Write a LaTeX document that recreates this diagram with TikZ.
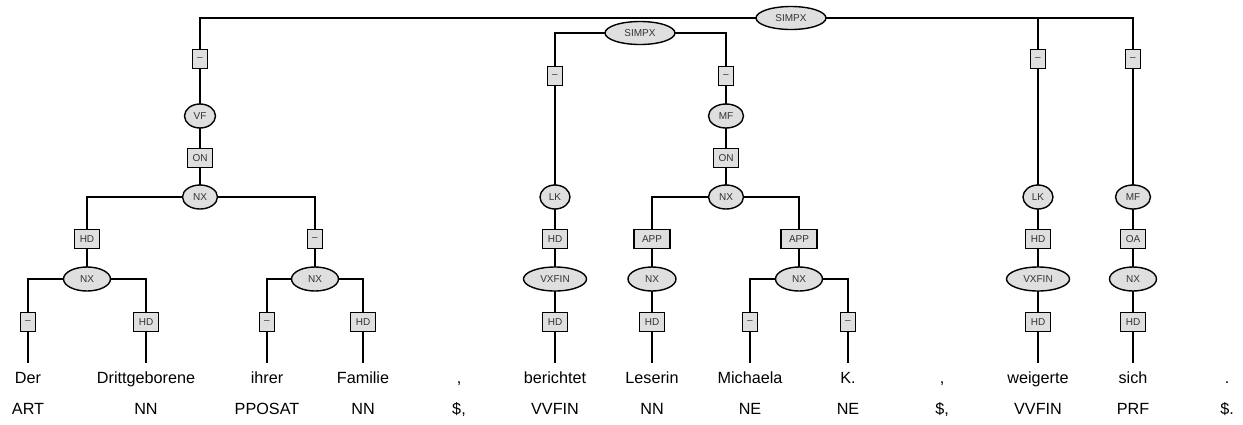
\documentclass[tikz,border=0pt]{standalone}
\usepackage{fontspec}
\setmainfont{Liberation Sans}
\usetikzlibrary{shapes.geometric,backgrounds}
\begin{document}
\begin{tikzpicture}[x=1pt,y=-1pt,
  cat/.style={ellipse,draw=black,line width=1.4pt,fill=gray!25,inner sep=0pt,minimum height=24pt,font=\fontsize{10}{12}\selectfont,text=black!80},
  lab/.style={rectangle,draw=black,line width=1.4pt,fill=gray!25,inner xsep=5pt,inner ysep=0pt,minimum height=19pt,minimum width=15pt,font=\fontsize{10}{12}\selectfont,text=black!80},
  word/.style={anchor=base,inner xsep=0pt,inner ysep=8pt,text height=12pt,text depth=3pt,font=\fontsize{16.2}{18}\selectfont},
  tagtext/.style={anchor=base,inner sep=0pt,font=\fontsize{16.2}{18}\selectfont},
  link/.style={line width=1.3pt,black}]
\useasboundingbox (0,0) rectangle (1243,424);

% ---- words ----
\node[word] (w1) at (28,383) {Der};
\node[word] (w2) at (146,383) {Drittgeborene};
\node[word] (w3) at (267,383) {ihrer};
\node[word] (w4) at (363,383) {Familie};
\node[word] (w5) at (459,383) {,};
\node[word] (w6) at (555,383) {berichtet};
\node[word] (w7) at (652,383) {Leserin};
\node[word] (w8) at (750,383) {Michaela};
\node[word] (w9) at (848,383) {K.};
\node[word] (w10) at (942,383) {,};
\node[word] (w11) at (1038,383) {weigerte};
\node[word] (w12) at (1133,383) {sich};
\node[word] (w13) at (1227,383) {.};
% ---- POS ----
\node[tagtext] (p1) at (28,414) {ART};
\node[tagtext] (p2) at (146,414) {NN};
\node[tagtext] (p3) at (267,414) {PPOSAT};
\node[tagtext] (p4) at (363,414) {NN};
\node[tagtext] (p5) at (459,414) {\$,};
\node[tagtext] (p6) at (555,414) {VVFIN};
\node[tagtext] (p7) at (652,414) {NN};
\node[tagtext] (p8) at (750,414) {NE};
\node[tagtext] (p9) at (848,414) {NE};
\node[tagtext] (p10) at (942,414) {\$,};
\node[tagtext] (p11) at (1038,414) {VVFIN};
\node[tagtext] (p12) at (1133,414) {PRF};
\node[tagtext] (p13) at (1227,414) {\$.};

% ---- top SIMPX ----
\node[cat,minimum width=70pt,minimum height=23pt] (s1) at (791,18) {SIMPX};
% left branch: VF
\node[lab] (e1) at (200,59) {–};
\node[cat,minimum width=31pt] (vf) at (200,116) {VF};
\node[lab] (on1) at (200,158) {ON};
\node[cat,minimum width=35pt] (nx1) at (200,197) {NX};
\node[lab] (hd1) at (87,239) {HD};
\node[cat,minimum width=47pt] (nx2) at (87,279) {NX};
\node[lab] (d1) at (28,322) {–};
\node[lab] (hd2) at (146,322) {HD};
\node[lab] (d2) at (315,239) {–};
\node[cat,minimum width=47pt] (nx3) at (315,279) {NX};
\node[lab] (d3) at (267,322) {–};
\node[lab] (hd3) at (363,322) {HD};
% right branches
\node[lab] (e2) at (1038,59) {–};
\node[cat,minimum width=30pt] (lk2) at (1038,197) {LK};
\node[lab] (hd4) at (1038,239) {HD};
\node[cat,minimum width=63pt] (vx2) at (1038,279) {VXFIN};
\node[lab] (hd5) at (1038,322) {HD};
\node[lab] (e3) at (1133,59) {–};
\node[cat,minimum width=35pt] (mf2) at (1133,197) {MF};
\node[lab] (oa) at (1133,239) {OA};
\node[cat,minimum width=47pt] (nx4) at (1133,279) {NX};
\node[lab] (hd6) at (1133,322) {HD};

% ---- second SIMPX ----
\node[cat,minimum width=70pt,minimum height=23pt] (s2) at (640,33) {SIMPX};
\node[lab] (e4) at (555,76) {–};
\node[cat,minimum width=30pt] (lk1) at (555,197) {LK};
\node[lab] (hd7) at (555,239) {HD};
\node[cat,minimum width=63pt] (vx1) at (555,279) {VXFIN};
\node[lab] (hd8) at (555,322) {HD};
\node[lab] (e5) at (726,76) {–};
\node[cat,minimum width=35pt] (mf1) at (726,116) {MF};
\node[lab] (on2) at (726,158) {ON};
\node[cat,minimum width=35pt] (nx5) at (726,197) {NX};
\node[lab,minimum width=36pt] (app1) at (652,239) {APP};
\node[cat,minimum width=48pt] (nx6) at (652,279) {NX};
\node[lab] (hd9) at (652,322) {HD};
\node[lab,minimum width=36pt] (app2) at (799,239) {APP};
\node[cat,minimum width=47pt] (nx7) at (799,279) {NX};
\node[lab] (d4) at (750,322) {–};
\node[lab] (d5) at (848,322) {–};

\begin{scope}[on background layer]
  % top SIMPX
  \draw[link] (s1.center) -| (e1.center) -- (vf.center);
  \draw[link] (s1.center) -| (e2.center) -- (lk2.center);
  \draw[link] (s1.center) -| (e3.center) -- (mf2.center);
  % VF subtree
  \draw[link] (vf.center) -- (on1.center) -- (nx1.center);
  \draw[link] (nx1.center) -| (hd1.center) -- (nx2.center);
  \draw[link] (nx1.center) -| (d2.center) -- (nx3.center);
  \draw[link] (nx2.center) -| (d1.center) -- (d1.center |- w1.north);
  \draw[link] (nx2.center) -| (hd2.center) -- (hd2.center |- w2.north);
  \draw[link] (nx3.center) -| (d3.center) -- (d3.center |- w3.north);
  \draw[link] (nx3.center) -| (hd3.center) -- (hd3.center |- w4.north);
  % LK / MF right
  \draw[link] (lk2.center) -- (hd4.center) -- (vx2.center) -- (hd5.center) -- (hd5.center |- w11.north);
  \draw[link] (mf2.center) -- (oa.center) -- (nx4.center) -- (hd6.center) -- (hd6.center |- w12.north);
  % second SIMPX
  \draw[link] (s2.center) -| (e4.center) -- (lk1.center);
  \draw[link] (s2.center) -| (e5.center) -- (mf1.center);
  \draw[link] (lk1.center) -- (hd7.center) -- (vx1.center) -- (hd8.center) -- (hd8.center |- w6.north);
  \draw[link] (mf1.center) -- (on2.center) -- (nx5.center);
  \draw[link] (nx5.center) -| (app1.center) -- (nx6.center);
  \draw[link] (nx5.center) -| (app2.center) -- (nx7.center);
  \draw[link] (nx6.center) -- (hd9.center) -- (hd9.center |- w7.north);
  \draw[link] (nx7.center) -| (d4.center) -- (d4.center |- w8.north);
  \draw[link] (nx7.center) -| (d5.center) -- (d5.center |- w9.north);
\end{scope}
\end{tikzpicture}
\end{document}
